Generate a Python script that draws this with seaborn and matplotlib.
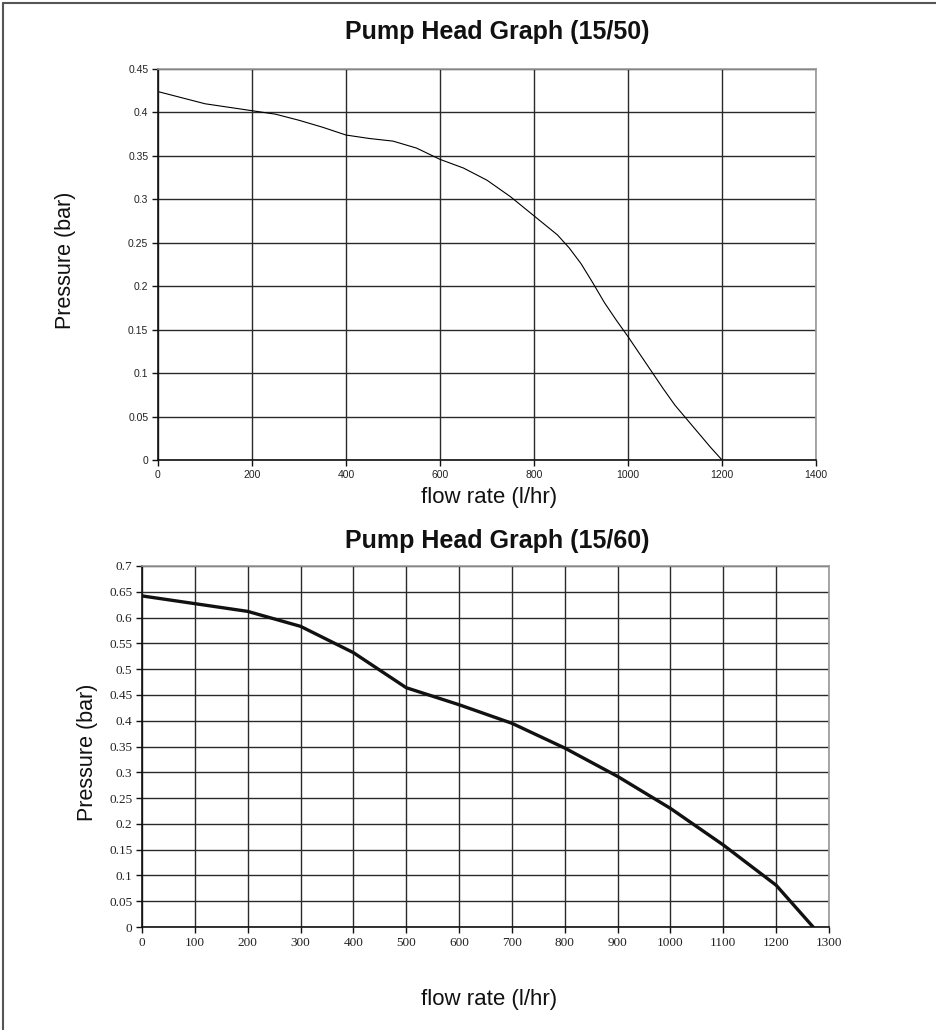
import pandas as pd
import numpy as np
import matplotlib.pyplot as plt
import seaborn as sns
from matplotlib.lines import Line2D

# --- data ---
flow_50 = [0, 50, 100, 150, 200, 250, 300, 350, 400, 450, 500, 550, 600, 650, 700, 750,
           800, 825, 850, 875, 900, 925, 950, 975, 1000, 1025, 1050, 1075, 1100, 1125,
           1150, 1175, 1200]
pressure_50 = [0.424, 0.417, 0.410, 0.406, 0.402, 0.398, 0.391, 0.383, 0.374, 0.370,
               0.367, 0.359, 0.346, 0.336, 0.322, 0.303, 0.281, 0.270, 0.259, 0.244,
               0.226, 0.204, 0.181, 0.161, 0.142, 0.122, 0.102, 0.082, 0.063, 0.047,
               0.031, 0.015, 0.0]

flow_60 = [0, 100, 200, 300, 400, 500, 600, 700, 800, 900, 1000, 1100, 1200, 1270]
pressure_60 = [0.642, 0.627, 0.612, 0.583, 0.532, 0.464, 0.431, 0.395, 0.347,
               0.292, 0.230, 0.159, 0.081, 0.0]

x_ticks_50 = list(range(0, 1401, 200))
y_ticks_50 = [0, 0.05, 0.1, 0.15, 0.2, 0.25, 0.3, 0.35, 0.4, 0.45]
x_ticks_60 = list(range(0, 1301, 100))
y_ticks_60 = [0, 0.05, 0.1, 0.15, 0.2, 0.25, 0.3, 0.35, 0.4, 0.45, 0.5, 0.55, 0.6, 0.65, 0.7]

df50 = pd.DataFrame({'flow': flow_50, 'pressure': pressure_50})
df60 = pd.DataFrame({'flow': flow_60, 'pressure': pressure_60})

sns.set_theme(style="white")
plt.rcParams['font.family'] = ['Liberation Sans', 'DejaVu Sans']

fig = plt.figure(figsize=(9.37, 10.30), dpi=100)
W, H = 937, 1030

def style_axes(ax, xt, yt, serif):
    ax.set_xticks(xt)
    ax.set_yticks(yt)
    fam = ['Liberation Serif'] if serif else ['Liberation Sans']
    size = 9.5 if serif else 7.5
    ax.set_xticklabels([f"{v:g}" for v in xt], family=fam, fontsize=size)
    ax.set_yticklabels([f"{v:g}" for v in yt], family=fam, fontsize=size)
    ax.grid(True, color='#2a2a2a', linewidth=1.0)
    ax.set_axisbelow(True)
    for side in ['top', 'right']:
        ax.spines[side].set_color('#999999')
        ax.spines[side].set_linewidth(1.2)
    for side in ['left', 'bottom']:
        ax.spines[side].set_color('#111111')
        ax.spines[side].set_linewidth(1.2)
    ax.tick_params(axis='both', which='both', length=4, width=1, color='#111111',
                   direction='out', left=True, bottom=True, pad=3, labelcolor='#222222')

# top chart
ax1 = fig.add_axes([158 / W, 1 - 460 / H, (816 - 158) / W, (460 - 69) / H])
sns.lineplot(data=df50, x='flow', y='pressure', ax=ax1, color='black', linewidth=0.8)
ax1.set_xlim(0, 1400)
ax1.set_ylim(0, 0.45)
style_axes(ax1, x_ticks_50, y_ticks_50, serif=False)
ax1.set_xlabel('')
ax1.set_ylabel('')
fig.text(497 / W, 1 - 32 / H, 'Pump Head Graph (15/50)', ha='center', va='center',
         fontsize=18, fontweight='bold', color='#111111')
fig.text(489 / W, 1 - 497 / H, 'flow rate (l/hr)', ha='center', va='center', fontsize=16,
         color='#111111')
fig.text(66 / W, 1 - 260 / H, 'Pressure (bar)', ha='center', va='center', fontsize=15.5,
         rotation=90, color='#111111')

# bottom chart
ax2 = fig.add_axes([142 / W, 1 - 927 / H, (829 - 142) / W, (927 - 566) / H])
sns.lineplot(data=df60, x='flow', y='pressure', ax=ax2, color='#111111', linewidth=2.4)
ax2.set_xlim(0, 1300)
ax2.set_ylim(0, 0.7)
style_axes(ax2, x_ticks_60, y_ticks_60, serif=True)
ax2.set_xlabel('')
ax2.set_ylabel('')
fig.text(497 / W, 1 - 541 / H, 'Pump Head Graph (15/60)', ha='center', va='center',
         fontsize=18, fontweight='bold', color='#111111')
fig.text(489 / W, 1 - 1000 / H, 'flow rate (l/hr)', ha='center', va='center', fontsize=16,
         color='#111111')
fig.text(88 / W, 1 - 752 / H, 'Pressure (bar)', ha='center', va='center', fontsize=15.5,
         rotation=90, color='#111111')

# page border (top and left only)
fig.add_artist(Line2D([3 / W, 1], [1 - 3 / H, 1 - 3 / H], color='#555555', linewidth=1.5))
fig.add_artist(Line2D([3 / W, 3 / W], [0, 1 - 3 / H], color='#555555', linewidth=1.5))

plt.savefig('out.png', dpi=100, facecolor='white')
print("Plot saved to out.png")
